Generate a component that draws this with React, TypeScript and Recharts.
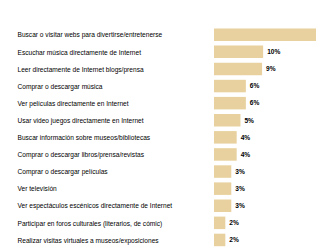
import React from "react";
import { BarChart, Bar, XAxis, YAxis, LabelList } from "recharts";

const categories = [
  "Buscar o visitar webs para divertirse/entretenerse",
  "Escuchar música directamente de Internet",
  "Leer directamente de Internet blogs/prensa",
  "Comprar o descargar música",
  "Ver películas directamente en Internet",
  "Usar video juegos directamente en Internet",
  "Buscar información sobre museos/bibliotecas",
  "Comprar o descargar libros/prensa/revistas",
  "Comprar o descargar películas",
  "Ver televisión",
  "Ver espectáculos escénicos directamente de Internet",
  "Participar en foros culturales (literarios, de cómic)",
  "Realizar visitas virtuales a museos/exposiciones",
];
const shares = [22, 9.1, 8.9, 5.9, 5.9, 4.9, 4.2, 4.2, 3.2, 3.2, 3.2, 2.1, 2.1];
const shareLabels = ["22%", "10%", "9%", "6%", "6%", "5%", "4%", "4%", "3%", "3%", "3%", "2%", "2%"];

const data = categories.map((c, i) => ({ name: c, value: shares[i], label: shareLabels[i] }));

const FONT = "'Liberation Sans', Arial, sans-serif";

const LeftTick = (props: any) => {
  const { y, payload } = props;
  return (
    <text x={17.5} y={y} dy={2.4} fontSize={6.6} fill="#000" fontFamily={FONT} textAnchor="start">
      {payload.value}
    </text>
  );
};

export default function App() {
  return (
    <div style={{ position: "fixed", left: 0, top: 0, width: 316, height: 248, overflow: "hidden", background: "#fff" }}>
      <BarChart
        width={420}
        height={260}
        data={data}
        layout="vertical"
        margin={{ top: 26.5, right: 44, bottom: 11.2, left: 0 }}
        barSize={12.5}
      >
        <XAxis type="number" domain={[0, 30]} hide />
        <YAxis
          type="category"
          dataKey="name"
          width={214}
          axisLine={false}
          tickLine={false}
          tick={<LeftTick />}
          interval={0}
        />
        <Bar dataKey="value" fill="#E8D19E" isAnimationActive={false}>
          <LabelList
            dataKey="label"
            position="right"
            offset={4}
            fontSize={6.6}
            fontWeight="bold"
            fill="#000"
            fontFamily={FONT}
          />
        </Bar>
      </BarChart>
    </div>
  );
}
